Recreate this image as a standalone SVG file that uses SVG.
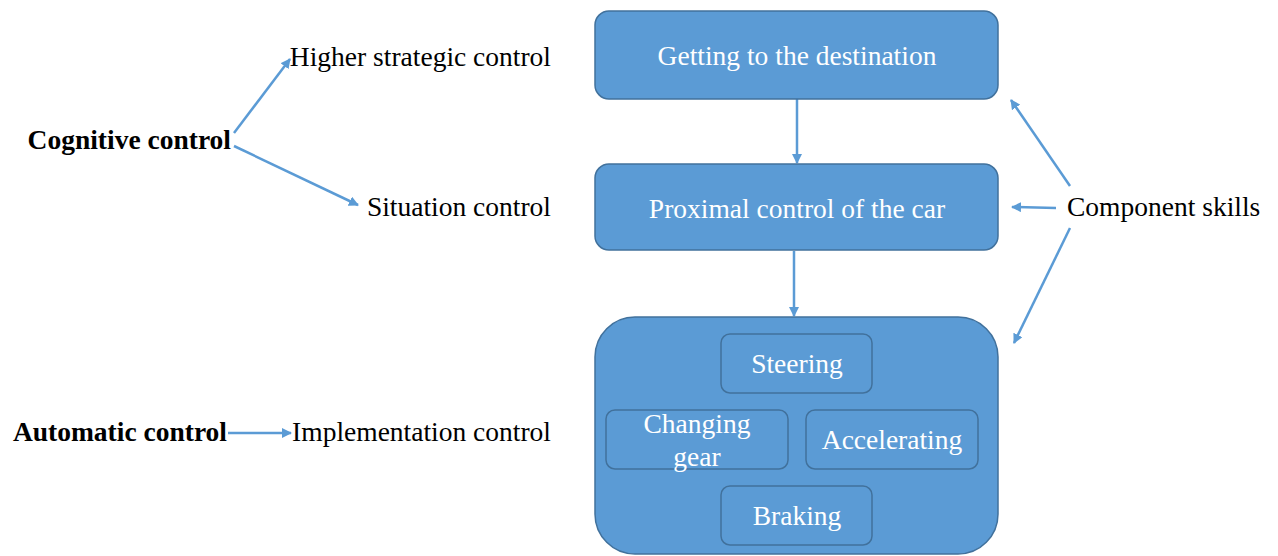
<svg xmlns="http://www.w3.org/2000/svg" width="1278" height="556" viewBox="0 0 1278 556">
<style>
.box{fill:#5B9BD5;stroke:#41719C;stroke-width:1.5}
.wt{fill:#fff;font-family:'Liberation Serif','Times New Roman',Times,'DejaVu Serif',serif;font-size:27.5px;text-anchor:middle}
.bt{fill:#000;font-family:'Liberation Serif','Times New Roman',Times,'DejaVu Serif',serif;font-size:27.5px}
.b{font-weight:bold}
.ln{stroke:#5B9BD5;stroke-width:2.5;fill:none;marker-end:url(#ah)}
</style>
<defs>
<marker id="ah" viewBox="0 0 10 10" refX="9" refY="5" markerWidth="4" markerHeight="4" orient="auto" markerUnits="strokeWidth">
<path d="M0,0 L10,5 L0,10 z" fill="#5B9BD5"/>
</marker>
</defs>
<rect width="1278" height="556" fill="#fff"/>
<g id="connectors">
<line class="ln" x1="797" y1="99" x2="797" y2="163"/>
<line class="ln" x1="794" y1="251" x2="794" y2="316"/>
<line class="ln" x1="234" y1="133" x2="290" y2="59"/>
<line class="ln" x1="234" y1="146" x2="358" y2="205"/>
<line class="ln" x1="228" y1="433" x2="291" y2="433"/>
<line class="ln" x1="1070" y1="186" x2="1011" y2="100"/>
<line class="ln" x1="1056" y1="208" x2="1012" y2="207"/>
<line class="ln" x1="1070" y1="228" x2="1014" y2="343"/>
</g>
<g id="n-destination"><rect class="box" x="595" y="11" width="403" height="88" rx="14"/><text class="wt" x="797" y="65">Getting to the destination</text></g>
<g id="n-proximal"><rect class="box" x="595" y="164" width="403" height="86" rx="14"/><text class="wt" x="797" y="218">Proximal control of the car</text></g>
<g id="n-implementation-box"><rect class="box" x="595" y="317" width="403" height="237" rx="40"/></g>
<g id="n-steering"><rect class="box" x="721" y="334" width="151" height="59" rx="9"/><text class="wt" x="797" y="373">Steering</text></g>
<g id="n-gear"><rect class="box" x="606" y="410" width="182" height="59" rx="9"/><text class="wt" x="697" y="433">Changing</text><text class="wt" x="697" y="466">gear</text></g>
<g id="n-accel"><rect class="box" x="806" y="410" width="172" height="59" rx="9"/><text class="wt" x="892" y="449">Accelerating</text></g>
<g id="n-braking"><rect class="box" x="721" y="486" width="151" height="59" rx="9"/><text class="wt" x="797" y="525">Braking</text></g>
<g id="n-cognitive"><text class="bt b" x="231" y="149" text-anchor="end">Cognitive control</text></g>
<g id="n-higher"><text class="bt" x="551" y="66" text-anchor="end">Higher strategic control</text></g>
<g id="n-situation"><text class="bt" x="551" y="216" text-anchor="end">Situation control</text></g>
<g id="n-automatic"><text class="bt b" x="227" y="441" text-anchor="end">Automatic control</text></g>
<g id="n-implementation"><text class="bt" x="551" y="441" text-anchor="end">Implementation control</text></g>
<g id="n-component"><text class="bt" x="1067" y="216">Component skills</text></g>
</svg>
